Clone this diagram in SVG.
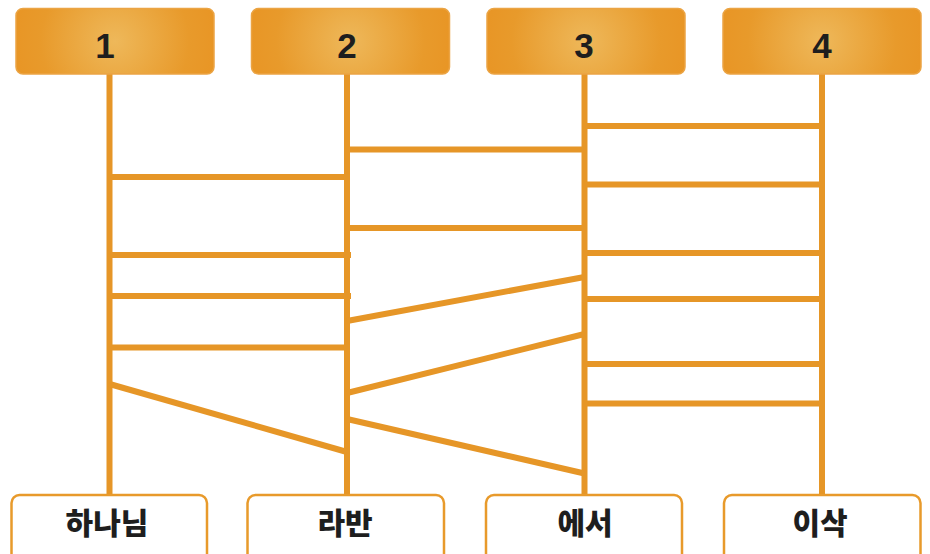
<svg xmlns="http://www.w3.org/2000/svg" width="930" height="554" viewBox="0 0 930 554">
<defs>
<radialGradient id="g" cx="0.5" cy="0.5" r="0.5" gradientTransform="translate(0.5 0.5) scale(1 3) translate(-0.5 -0.5)">
<stop offset="0" stop-color="#EEB85A"/>
<stop offset="0.75" stop-color="#E89A2B"/>
<stop offset="1" stop-color="#E89626"/>
</radialGradient>
<style>
.top{fill:url(#g);stroke:#EBA444;stroke-width:1.5}
.bot{fill:#FFFFFF;stroke:#E89A2B;stroke-width:2.5}
.num{font-family:"Liberation Sans",Arial,sans-serif;font-weight:bold;font-size:35px;fill:#1E1E1E;text-anchor:middle}
.lbl{font-family:"Noto Sans CJK KR",sans-serif;font-weight:900;font-size:30px;fill:#1E1E1E;text-anchor:middle}
.ln{stroke:#E69627;stroke-width:6;fill:none;stroke-linecap:butt}
</style>
</defs>
<rect width="930" height="554" fill="#FFFFFF"/>
<g id="connectors">
<line class="ln" x1="109.5" y1="74" x2="109.5" y2="495"/>
<line class="ln" x1="347" y1="74" x2="347" y2="495"/>
<line class="ln" x1="584.5" y1="74" x2="584.5" y2="495"/>
<line class="ln" x1="822" y1="74" x2="822" y2="495"/>
<line class="ln" x1="109.5" y1="177" x2="347" y2="177"/>
<line class="ln" x1="109.5" y1="255" x2="351" y2="255"/>
<line class="ln" x1="109.5" y1="296" x2="351" y2="296"/>
<line class="ln" x1="109.5" y1="347.5" x2="347" y2="347.5"/>
<line class="ln" x1="109.5" y1="384" x2="347" y2="452"/>
<line class="ln" x1="347" y1="149.5" x2="584.5" y2="149.5"/>
<line class="ln" x1="347" y1="228" x2="584.5" y2="228"/>
<line class="ln" x1="347" y1="321" x2="584.5" y2="277"/>
<line class="ln" x1="347" y1="393" x2="584.5" y2="334"/>
<line class="ln" x1="347" y1="419" x2="584.5" y2="473.5"/>
<line class="ln" x1="584.5" y1="126" x2="822" y2="126"/>
<line class="ln" x1="584.5" y1="184.5" x2="822" y2="184.5"/>
<line class="ln" x1="584.5" y1="253" x2="822" y2="253"/>
<line class="ln" x1="584.5" y1="299" x2="822" y2="299"/>
<line class="ln" x1="584.5" y1="364" x2="822" y2="364"/>
<line class="ln" x1="584.5" y1="403.5" x2="822" y2="403.5"/>
</g>
<g id="top1"><rect class="top" x="16" y="8.5" width="198" height="65.5" rx="7"/><text class="num" x="105" y="58">1</text></g>
<g id="top2"><rect class="top" x="251.5" y="8.5" width="198" height="65.5" rx="7"/><text class="num" x="347" y="58">2</text></g>
<g id="top3"><rect class="top" x="487" y="8.5" width="198" height="65.5" rx="7"/><text class="num" x="584" y="58">3</text></g>
<g id="top4"><rect class="top" x="723" y="8.5" width="198" height="65.5" rx="7"/><text class="num" x="822" y="58">4</text></g>
<g id="bot1"><rect class="bot" x="11.5" y="495" width="195.5" height="80" rx="8"/><text class="lbl" x="107" y="534">하나님</text></g>
<g id="bot2"><rect class="bot" x="247.5" y="495" width="196.5" height="80" rx="8"/><text class="lbl" x="345" y="534">라반</text></g>
<g id="bot3"><rect class="bot" x="486" y="495" width="196" height="80" rx="8"/><text class="lbl" x="585" y="534">에서</text></g>
<g id="bot4"><rect class="bot" x="724" y="495" width="196.5" height="80" rx="8"/><text class="lbl" x="820" y="534">이삭</text></g>
</svg>
